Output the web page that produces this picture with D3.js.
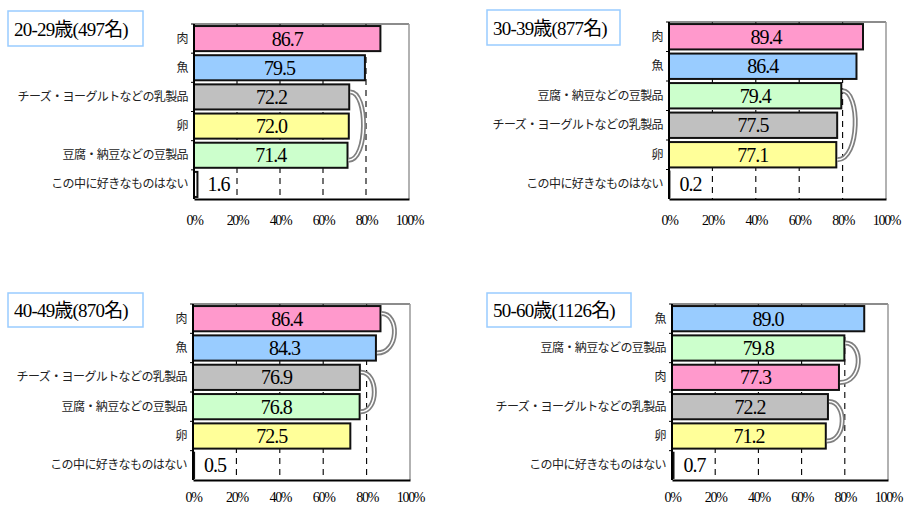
<!DOCTYPE html>
<html>
<head>
<meta charset="utf-8">
<script src="https://cdn.jsdelivr.net/npm/d3@7"></script>
<style>
  body { margin: 0; background: #fff; }
  svg { display: block; }
  .cat { font-family: "Noto Sans CJK JP", sans-serif; font-size: 12px; fill: #222; letter-spacing: -0.6px; }
  .val { font-family: "Liberation Serif", "Noto Sans CJK JP", serif; font-size: 20px; fill: #000; letter-spacing: -1px; }
  .title { font-family: "Liberation Serif", "Noto Sans CJK JP", serif; font-size: 19px; fill: #000; letter-spacing: -0.8px; }
</style>
</head>
<body>
<svg id="chart" width="906" height="506"></svg>
<script>
//data
var cats1 = ["肉", "魚", "チーズ・ヨーグルトなどの乳製品", "卵", "豆腐・納豆などの豆製品", "この中に好きなものはない"];
var vals1 = [86.7, 79.5, 72.2, 72.0, 71.4, 1.6];
var cats2 = ["肉", "魚", "豆腐・納豆などの豆製品", "チーズ・ヨーグルトなどの乳製品", "卵", "この中に好きなものはない"];
var vals2 = [89.4, 86.4, 79.4, 77.5, 77.1, 0.2];
var cats3 = ["肉", "魚", "チーズ・ヨーグルトなどの乳製品", "豆腐・納豆などの豆製品", "卵", "この中に好きなものはない"];
var vals3 = [86.4, 84.3, 76.9, 76.8, 72.5, 0.5];
var cats4 = ["魚", "豆腐・納豆などの豆製品", "肉", "チーズ・ヨーグルトなどの乳製品", "卵", "この中に好きなものはない"];
var vals4 = [89.0, 79.8, 77.3, 72.2, 71.2, 0.7];
var titles = ["20-29歳(497名)", "30-39歳(877名)", "40-49歳(870名)", "50-60歳(1126名)"];
//pairs with no significant difference
var brackets1 = [[2, 4]];
var brackets2 = [[2, 4]];
var brackets3 = [[0, 1], [2, 3]];
var brackets4 = [[1, 2], [3, 4]];
var xTicks = [0, 20, 40, 60, 80, 100];

var colors = {
	"肉": "#ff99cc",
	"魚": "#99ccff",
	"チーズ・ヨーグルトなどの乳製品": "#c0c0c0",
	"卵": "#ffff99",
	"豆腐・納豆などの豆製品": "#ccffcc",
	"この中に好きなものはない": "#ffffff"
};

var panels = [
	{cats: cats1, vals: vals1, brackets: brackets1, title: titles[0], x0: 194, x1: 409, y0: 24, y1: 199, pad: 16, box: [8, 11, 135, 35]},
	{cats: cats2, vals: vals2, brackets: brackets2, title: titles[1], x0: 669, x1: 886, y0: 22, y1: 199, pad: 16, box: [487, 10, 133, 35]},
	{cats: cats3, vals: vals3, brackets: brackets3, title: titles[2], x0: 193, x1: 410, y0: 304, y1: 480, pad: 12, box: [8, 293, 135, 34]},
	{cats: cats4, vals: vals4, brackets: brackets4, title: titles[3], x0: 672, x1: 888, y0: 304, y1: 480, pad: 12, box: [487, 293, 144, 34]}
];

var svg = d3.select("#chart");

panels.forEach(function(p)
	{
		var g = svg.append("g");
		var x = d3.scaleLinear().domain([0, 100]).range([p.x0, p.x1]);
		var y = d3.scaleBand().domain(p.cats).range([p.y0, p.y1]).paddingInner(0.14).paddingOuter(0.07);
		var band = d3.scaleBand().domain(p.cats).range([p.y0, p.y1]);

		//title box
		g.append("rect")
			.attr("x", p.box[0]).attr("y", p.box[1])
			.attr("width", p.box[2]).attr("height", p.box[3])
			.attr("fill", "#fff").attr("stroke", "#99ccff").attr("stroke-width", 1.5);
		g.append("text")
			.attr("class", "title")
			.attr("x", p.box[0] + 6).attr("y", p.box[1] + p.box[3] / 2 + 7)
			.text(p.title);

		//grid
		g.selectAll(".grid")
			.data(xTicks.filter(function(t) { return t > 0 && t < 100; }))
		  .enter().append("line")
			.attr("x1", function(d) { return x(d); }).attr("x2", function(d) { return x(d); })
			.attr("y1", p.y0).attr("y2", p.y1)
			.attr("stroke", "#000").attr("stroke-width", 1.1)
			.attr("stroke-dasharray", "6,5");

		//frame: top and right
		g.append("line").attr("x1", p.x0).attr("x2", p.x1).attr("y1", p.y0).attr("y2", p.y0)
			.attr("stroke", "#666").attr("stroke-width", 1.5);
		g.append("line").attr("x1", p.x1).attr("x2", p.x1).attr("y1", p.y0).attr("y2", p.y1)
			.attr("stroke", "#999").attr("stroke-width", 1.5);
		g.selectAll(".ttick")
			.data(xTicks.filter(function(t) { return t > 0 && t < 100; }))
		  .enter().append("line")
			.attr("x1", function(d) { return x(d); }).attr("x2", function(d) { return x(d); })
			.attr("y1", p.y0).attr("y2", p.y0 + 4)
			.attr("stroke", "#333").attr("stroke-width", 1);

		//bars
		g.selectAll(".bar")
			.data(p.cats)
		  .enter().append("rect")
			.attr("x", x(0))
			.attr("y", function(d) { return y(d); })
			.attr("width", function(d, i) { return x(p.vals[i]) - x(0); })
			.attr("height", y.bandwidth())
			.attr("fill", function(d) { return colors[d]; })
			.attr("stroke", "#111").attr("stroke-width", 2);

		//value labels
		g.selectAll(".val")
			.data(p.cats)
		  .enter().append("text")
			.attr("class", "val")
			.attr("x", function(d, i) { return p.vals[i] < 10 ? x(p.vals[i]) + 10 : (x(0) + x(p.vals[i])) / 2; })
			.attr("y", function(d) { return y(d) + y.bandwidth() / 2 + 7; })
			.attr("text-anchor", function(d, i) { return p.vals[i] < 10 ? "start" : "middle"; })
			.text(function(d, i) { return p.vals[i].toFixed(1); });

		//brackets
		p.brackets.forEach(function(b)
			{
				var xa = x(p.vals[b[0]]) + 1, xb = x(p.vals[b[1]]) + 1;
				var ya = y(p.cats[b[0]]) + y.bandwidth() * 0.3;
				var yb = y(p.cats[b[1]]) + y.bandwidth() * 0.7;
				var xc = Math.max(xa, xb) + 18;
				var d = "M" + xa + "," + ya + " C" + xc + "," + ya + " " + xc + "," + yb + " " + xb + "," + yb;
				g.append("path").attr("d", d).attr("fill", "none").attr("stroke", "#808080").attr("stroke-width", 5);
				g.append("path").attr("d", d).attr("fill", "none").attr("stroke", "#fff").attr("stroke-width", 1.5);
			});

		//left axis
		g.append("line").attr("x1", p.x0).attr("x2", p.x0).attr("y1", p.y0).attr("y2", p.y1)
			.attr("stroke", "#000").attr("stroke-width", 2);
		g.selectAll(".ltick")
			.data(p.cats)
		  .enter().append("line")
			.attr("x1", p.x0 - 3).attr("x2", p.x0)
			.attr("y1", function(d) { return band(d); }).attr("y2", function(d) { return band(d); })
			.attr("stroke", "#000").attr("stroke-width", 1);
		g.selectAll(".cat")
			.data(p.cats)
		  .enter().append("text")
			.attr("class", "cat")
			.attr("x", p.x0 - 6)
			.attr("y", function(d) { return band(d) + band.bandwidth() / 2 + 4; })
			.attr("text-anchor", "end")
			.text(function(d) { return d; });

		//bottom axis
		var xAxis = d3.axisBottom(x).tickValues(xTicks).tickSize(0).tickPadding(p.pad)
			.tickFormat(function(d) { return d + "%"; });
		var ax = g.append("g")
			.attr("transform", "translate(0," + p.y1 + ")")
			.call(xAxis);
		ax.attr("font-family", "Liberation Serif").attr("font-size", 14);
		ax.select(".domain").attr("stroke", "#000").attr("stroke-width", 2);
		ax.selectAll("text").style("letter-spacing", "-1.3px").attr("fill", "#000");
	});
</script>
</body>
</html>
